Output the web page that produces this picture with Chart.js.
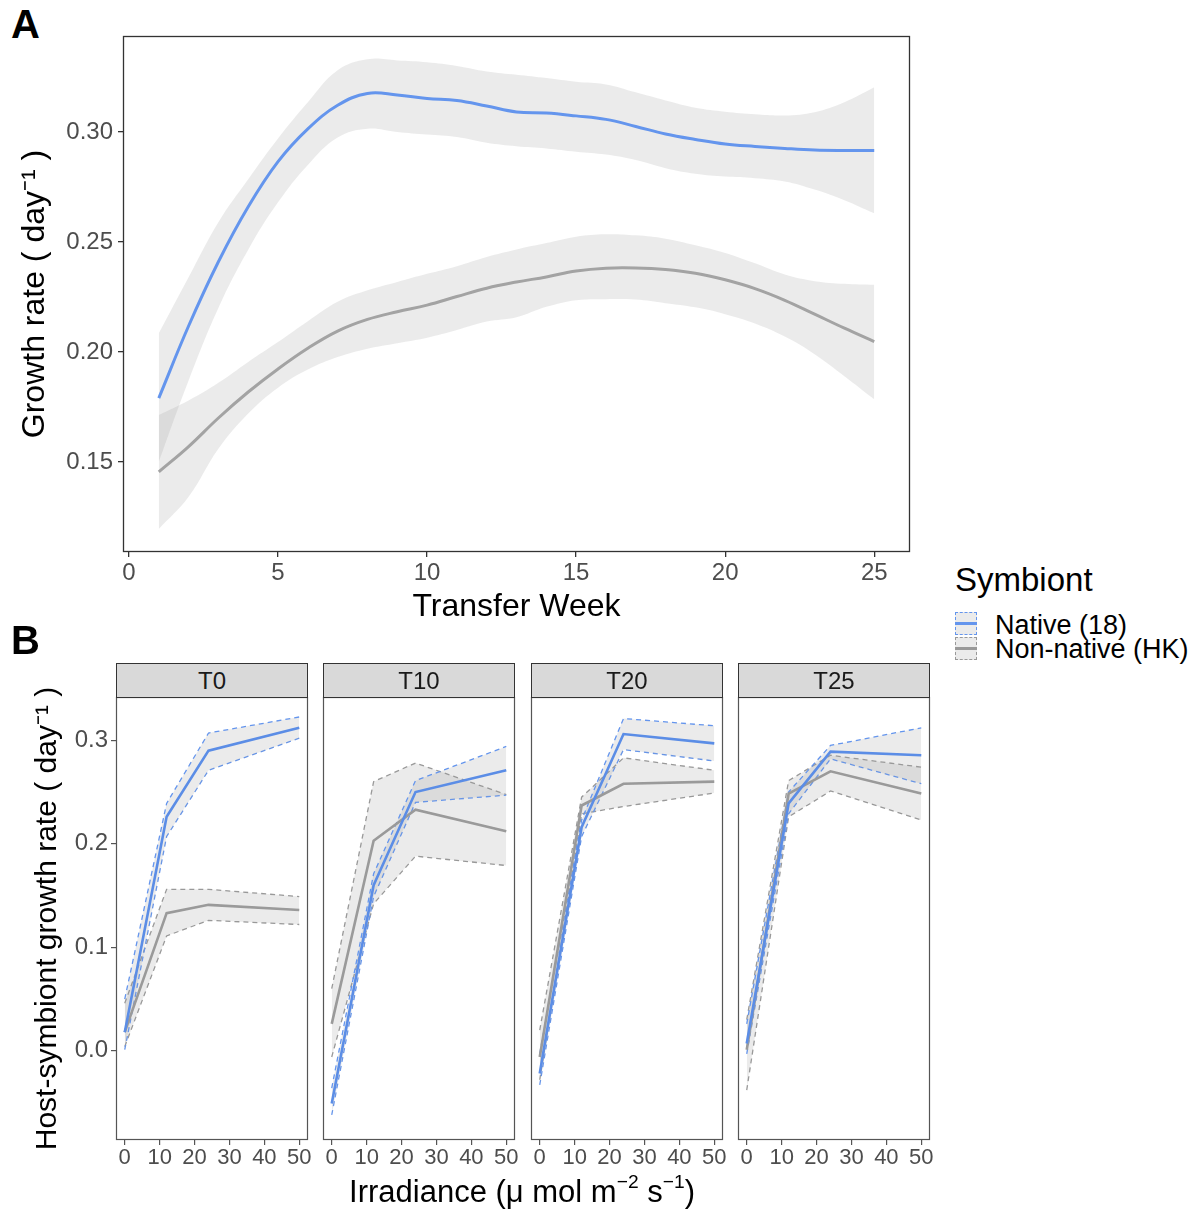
<!DOCTYPE html>
<html><head><meta charset="utf-8">
<script src="https://cdn.jsdelivr.net/npm/chart.js@4.4.0/dist/chart.umd.min.js"></script>
<style>
html,body{margin:0;padding:0;background:#fff;}
body{width:1201px;height:1211px;position:relative;overflow:hidden;font-family:"Liberation Sans",Arial,sans-serif;color:#000;}
.abs{position:absolute;white-space:nowrap;}
canvas{position:absolute;}
.strip{position:absolute;top:663px;width:192px;height:35px;box-sizing:border-box;border:1px solid #333;background:#D9D9D9;color:#1a1a1a;font-size:24px;line-height:33px;text-align:center;}
.key{position:absolute;left:955px;width:22px;height:23px;box-sizing:border-box;background:#EBEBEB;}
.keyline{position:absolute;left:0;right:0;top:9px;height:3px;}
sup{font-size:0.62em;line-height:0;vertical-align:0.75em;}
</style></head><body>
<div class="abs" style="left:11px;top:2px;font-size:40px;font-weight:bold;">A</div>
<canvas id="cA" width="930" height="640" style="left:0;top:0;"></canvas>
<div class="abs" style="left:11px;top:618px;font-size:40px;font-weight:bold;">B</div>
<canvas id="cB0" width="322" height="541" style="left:0;top:670px;"></canvas>
<canvas id="cB1" width="216" height="541" style="left:313px;top:670px;"></canvas>
<canvas id="cB2" width="216" height="541" style="left:521px;top:670px;"></canvas>
<canvas id="cB3" width="216" height="541" style="left:728px;top:670px;"></canvas>
<div id="strips"></div>
<div class="abs" style="left:222px;width:600px;top:1173px;text-align:center;font-size:31px;line-height:38px;">Irradiance (μ mol m<sup>−2</sup> s<sup>−1</sup>)</div>
<div class="abs" style="left:955px;top:560px;font-size:33px;line-height:40px;">Symbiont</div>
<div class="key" style="top:612px;border:1.5px dashed #6495ED;"><div class="keyline" style="background:#6495ED;"></div></div>
<div class="key" style="top:637px;border:1.5px dashed #999;"><div class="keyline" style="background:#999;"></div></div>
<div class="abs" style="left:995px;top:609px;font-size:27px;line-height:32px;">Native (18)</div>
<div class="abs" style="left:995px;top:633px;font-size:27px;line-height:32px;">Non-native (HK)</div>
<script>
// ---------- Panel A data ----------
const weeks = [1,2,3,4,5,6,7,8,9,10,11,12,13,14,15,16,17,18,19,20,21,22,23,24,25];
const nativeFit  = [0.179,0.2118,0.241,0.266,0.2865,0.3014,0.3121,0.3175,0.3168,0.3152,0.3143,0.3118,0.3091,0.3086,0.3073,0.3057,0.3025,0.2991,0.2966,0.2945,0.2934,0.2925,0.2918,0.2916,0.2916];
const nativeHigh = [0.2085,0.234,0.259,0.2785,0.297,0.3135,0.328,0.333,0.3325,0.3317,0.330,0.3275,0.326,0.3245,0.3228,0.3216,0.318,0.3143,0.311,0.3092,0.308,0.3075,0.309,0.3135,0.3203];
const nativeLow  = [0.150,0.187,0.220,0.2465,0.268,0.285,0.2975,0.3015,0.300,0.2988,0.2977,0.2951,0.2935,0.2925,0.291,0.2897,0.2872,0.2835,0.281,0.2797,0.279,0.2775,0.2738,0.269,0.263];
const nonNativeFit  = [0.1455,0.157,0.170,0.1818,0.1923,0.2017,0.2095,0.2148,0.2183,0.2213,0.2252,0.229,0.2318,0.2341,0.2368,0.2381,0.2382,0.2375,0.2358,0.2328,0.2288,0.2235,0.2172,0.2108,0.2047];
const nonNativeHigh = [0.1714,0.178,0.186,0.1955,0.2045,0.214,0.2228,0.228,0.2318,0.2355,0.239,0.2432,0.2466,0.2495,0.2524,0.2535,0.253,0.2515,0.2485,0.245,0.2403,0.2352,0.2322,0.231,0.2305];
const nonNativeLow  = [0.1195,0.1342,0.156,0.172,0.1838,0.192,0.1977,0.2015,0.204,0.2065,0.210,0.2138,0.2158,0.2205,0.2235,0.224,0.2238,0.2222,0.2203,0.2172,0.213,0.207,0.199,0.189,0.1785];
const xTicksA = [0,5,10,15,20,25];
const yTicksA = [0.15,0.20,0.25,0.30];

// ---------- Panel B data ----------
const irradiance = [0,12,24,50];
const facetLabels = ['T0','T10','T20','T25'];
const nativeMeanB  = [[0.018,0.226,0.290,0.312],[-0.051,0.160,0.250,0.271],[-0.022,0.216,0.306,0.297],[0.007,0.239,0.289,0.2855]];
const nativeUpperB = [[0.050,0.239,0.307,0.3225],[-0.036,0.171,0.261,0.294],[-0.003,0.223,0.321,0.314],[0.026,0.250,0.295,0.312]];
const nativeLowerB = [[0.001,0.207,0.271,0.302],[-0.062,0.149,0.240,0.247],[-0.033,0.207,0.291,0.280],[-0.003,0.229,0.282,0.258]];
const nonNativeMeanB  = [[0.018,0.133,0.141,0.136],[0.026,0.203,0.233,0.212],[-0.006,0.237,0.258,0.260],[0.001,0.2485,0.270,0.2485]];
const nonNativeUpperB = [[0.046,0.156,0.156,0.149],[0.060,0.260,0.278,0.2475],[0.020,0.245,0.283,0.271],[0.030,0.261,0.2855,0.274]];
const nonNativeLowerB = [[0.004,0.111,0.126,0.122],[-0.006,0.142,0.188,0.179],[-0.028,0.229,0.236,0.249],[-0.038,0.226,0.251,0.223]];
const xTicksB = [0,10,20,30,40,50];
const yTicksB = [0.0,0.1,0.2,0.3];

const FAMILY = '"Liberation Sans", Arial, sans-serif';
const BLUE = '#6495ED', BLUE_B = '#5B8DE6', GREY = '#A3A3A3', GREY_B = '#9A9A9A';
const BAND = 'rgba(153,153,153,0.2)';

function pts(xs, ys){ return xs.map((x,i)=>({x:x, y:ys[i]})); }

const frame = {
  id:'frame',
  afterDatasetsDraw(chart, args, opts){
    const a = chart.chartArea, c = chart.ctx;
    c.save();
    c.strokeStyle = opts.color; c.lineWidth = opts.width;
    const l = Math.round(a.left), t = Math.round(a.top), r = Math.round(a.right), b = Math.round(a.bottom);
    c.strokeRect(l+0.5, t+0.5, r-l-1, b-t-1);
    c.restore();
  }
};

// ---------- Panel A ----------
function smoothLine(label, ys, color, width){
  return {label:label, data:pts(weeks, ys), borderColor:color, borderWidth:width, pointRadius:0, tension:0.4, fill:false, order:0};
}
function bandEdge(ys, fillNext){
  return {data:pts(weeks, ys), borderWidth:0, borderColor:'rgba(0,0,0,0)', backgroundColor:BAND, pointRadius:0, tension:0.4, fill: fillNext ? '+1' : false, order:1};
}
new Chart(document.getElementById('cA'), {
  type:'line',
  data:{datasets:[
    smoothLine('Native (18)', nativeFit, BLUE, 3),
    smoothLine('Non-native (HK)', nonNativeFit, GREY, 3),
    bandEdge(nativeHigh, true), bandEdge(nativeLow, false),
    bandEdge(nonNativeHigh, true), bandEdge(nonNativeLow, false)
  ]},
  options:{
    responsive:false, animation:false, events:[],
    layout:{padding:{top:36, right:20, left:0, bottom:0}},
    plugins:{legend:{display:false}, tooltip:{enabled:false}, frame:{color:'#333', width:1.3}},
    scales:{
      x:{type:'linear', min:-0.2, max:26.2,
        afterFit(s){ s.height = 88; },
        afterBuildTicks(s){ s.ticks = xTicksA.map(v=>({value:v})); },
        grid:{drawOnChartArea:false, drawTicks:true, tickLength:5, color:'#333', lineWidth:1.3},
        border:{display:false},
        ticks:{font:{family:FAMILY, size:24, lineHeight:1.2}, color:'#4D4D4D', padding:2, maxRotation:0, autoSkip:false, callback:v=>String(v)},
        title:{display:true, text:'Transfer Week', font:{family:FAMILY, size:32, lineHeight:1.2}, color:'#000', padding:{top:0, bottom:14}}
      },
      y:{type:'linear', min:0.1091, max:0.3436,
        afterFit(s){ s.width = 123; },
        afterBuildTicks(s){ s.ticks = yTicksA.map(v=>({value:v})); },
        grid:{drawOnChartArea:false, drawTicks:true, tickLength:5, color:'#333', lineWidth:1.3},
        border:{display:false},
        ticks:{font:{family:FAMILY, size:24, lineHeight:1.2}, color:'#4D4D4D', padding:5, autoSkip:false, callback:v=>v.toFixed(2)},
        title:{display:true, text:'Growth rate ( day\u207B\u00B9 )', font:{family:FAMILY, size:32, lineHeight:1.2}, color:'#000', padding:{top:16, bottom:0}}
      }
    }
  },
  plugins:[frame]
});

// ---------- Panel B ----------
const panelLefts = [116, 323, 531, 738];
const strips = document.getElementById('strips');
facetLabels.forEach((lab, i)=>{
  const d = document.createElement('div');
  d.className = 'strip';
  d.style.left = panelLefts[i] + 'px';
  d.textContent = lab;
  strips.appendChild(d);
});

function meanLine(ys, color){
  return {data:pts(irradiance, ys), borderColor:color, borderWidth:2.6, pointRadius:0, tension:0, fill:false, order:0};
}
function dashEdge(ys, color, fillNext){
  return {data:pts(irradiance, ys), borderColor:color, borderWidth:1.3, borderDash:[5,4], backgroundColor:BAND, pointRadius:0, tension:0, fill: fillNext ? '+1' : false, order:1};
}
facetLabels.forEach((lab, i)=>{
  const first = i === 0;
  new Chart(document.getElementById('cB'+i), {
    type:'line',
    data:{datasets:[
      meanLine(nativeMeanB[i], BLUE_B),
      meanLine(nonNativeMeanB[i], GREY_B),
      dashEdge(nativeUpperB[i], BLUE, true), dashEdge(nativeLowerB[i], BLUE, false),
      dashEdge(nonNativeUpperB[i], '#999', true), dashEdge(nonNativeLowerB[i], '#999', false)
    ]},
    options:{
      responsive:false, animation:false, events:[],
      layout:{padding:{top:27, right:14, left: first ? 0 : 10, bottom:0}},
      plugins:{legend:{display:false}, tooltip:{enabled:false}, frame:{color:'#555', width:1.2}},
      scales:{
        x:{type:'linear', min:-2.5, max:52.5,
          afterFit(s){ s.height = 71; },
          afterBuildTicks(s){ s.ticks = xTicksB.map(v=>({value:v})); },
          grid:{drawOnChartArea:false, drawTicks:true, tickLength:5, color:'#555', lineWidth:1.2},
          border:{display:false},
          ticks:{font:{family:FAMILY, size:22, lineHeight:1.2}, color:'#4D4D4D', padding:0, maxRotation:0, autoSkip:false, callback:v=>String(v)}
        },
        y:{type:'linear', min:-0.0862, max:0.3418, display: first,
          afterFit(s){ s.width = first ? 116 : 0; },
          afterBuildTicks(s){ s.ticks = yTicksB.map(v=>({value:v})); },
          grid:{drawOnChartArea:false, drawTicks:true, tickLength:5, color:'#555', lineWidth:1.2},
          border:{display:false},
          ticks:{font:{family:FAMILY, size:24, lineHeight:1.2}, color:'#4D4D4D', padding:3, autoSkip:false, callback:v=>v.toFixed(1)},
          title:{display:true, text:'Host-symbiont growth rate ( day\u207B\u00B9 )', font:{family:FAMILY, size:30, lineHeight:1.2}, color:'#000', padding:{top:30, bottom:0}}
        }
      }
    },
    plugins:[frame]
  });
});
</script>
</body></html>
